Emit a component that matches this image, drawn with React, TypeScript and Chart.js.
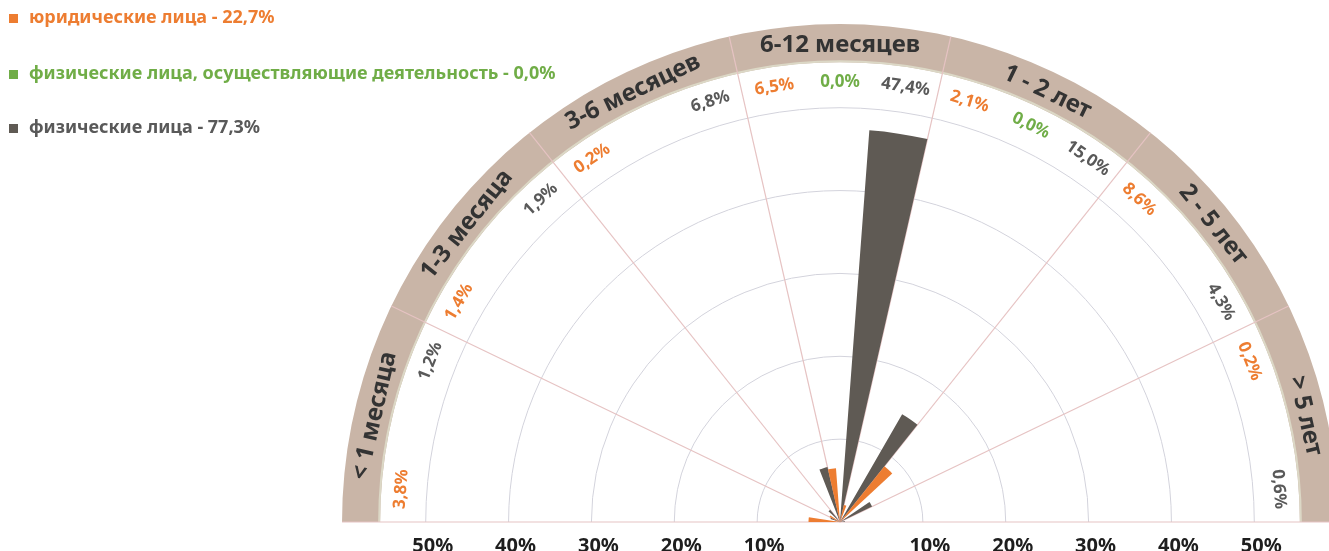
import { useEffect, useRef } from "react";
import { Chart, registerables } from "chart.js";

Chart.register(...registerables);

// ---- data ----
const categories = ["< 1 месяца", "1-3 месяца", "3-6 месяцев", "6-12 месяцев", "1 - 2 лет", "2 - 5 лет", "> 5 лет"];
const seriesNames = [
  "юридические лица - 22,7%",
  "физические лица, осуществляющие деятельность - 0,0%",
  "физические лица - 77,3%",
];
const legalEntities = [3.8, 1.4, 0.2, 6.5, 2.1, 8.6, 0.2];
const entrepreneurs = [0.0, 0.0, 0.0, 0.0, 0.0, 0.0, 0.0];
const individuals = [1.2, 1.9, 6.8, 47.4, 15.0, 4.3, 0.6];
const entrepreneursLabelShown = [false, false, false, true, true, false, false];
const gridTicks = [10, 20, 30, 40, 50];
const scaleMax = 63;
const bandInner = 55.5;
const bandOuter = 60.1;
const labelRadiusValue = 53.1;
const bandLabelValue = 57.6;

// ---- styles ----
const seriesColors = ["#ED7D31", "#70AD47", "#5F5A54"];
const labelColors = ["#ED7D31", "#70AD47", "#595959"];
const FONT = '"Noto Sans", "Open Sans", sans-serif';

const fmt = (v: number) => v.toFixed(1).replace(".", ",") + "%";

const semiPlugin = {
  id: "semiPolar",
  beforeDatasetsDraw(chart: any) {
    const r = chart.scales.r;
    const ctx = chart.ctx as CanvasRenderingContext2D;
    const cx = r.xCenter;
    const cy = r.yCenter;
    const n = categories.length;
    ctx.save();
    // grid semicircles
    ctx.strokeStyle = "#D3D3DC";
    ctx.lineWidth = 1;
    for (const v of gridTicks) {
      const d = r.getDistanceFromCenterForValue(v);
      ctx.beginPath();
      ctx.arc(cx, cy, d, Math.PI, 2 * Math.PI);
      ctx.stroke();
    }
    // band
    const ri = r.getDistanceFromCenterForValue(bandInner);
    const ro = r.getDistanceFromCenterForValue(bandOuter);
    ctx.beginPath();
    ctx.arc(cx, cy, ro, Math.PI, 2 * Math.PI);
    ctx.lineTo(cx + ri, cy);
    ctx.arc(cx, cy, ri, 2 * Math.PI, Math.PI, true);
    ctx.closePath();
    ctx.fillStyle = "#C9B5A7";
    ctx.fill();
    ctx.strokeStyle = "#DCD8C6";
    ctx.lineWidth = 2;
    ctx.beginPath();
    ctx.arc(cx, cy, ri + 1, Math.PI, 2 * Math.PI);
    ctx.stroke();
    // spokes
    ctx.strokeStyle = "#E6C3C3";
    ctx.lineWidth = 1.2;
    for (let k = 0; k <= n; k++) {
      const a = Math.PI + (k * Math.PI) / n;
      ctx.beginPath();
      ctx.moveTo(cx, cy);
      ctx.lineTo(cx + ro * Math.cos(a), cy + ro * Math.sin(a));
      ctx.stroke();
    }
    ctx.restore();
  },
  afterDatasetsDraw(chart: any) {
    const r = chart.scales.r;
    const ctx = chart.ctx as CanvasRenderingContext2D;
    const cx = r.xCenter;
    const cy = r.yCenter;
    const n = categories.length;
    const meta = chart.getDatasetMeta(0);
    ctx.save();
    ctx.textAlign = "center";
    ctx.textBaseline = "middle";
    // value labels
    const dl = r.getDistanceFromCenterForValue(labelRadiusValue);
    const series = [legalEntities, entrepreneurs, individuals];
    for (let i = 0; i < n; i++) {
      for (let s = 0; s < 3; s++) {
        if (s === 1 && !entrepreneursLabelShown[i]) continue;
        const el = meta.data[i * 3 + s];
        const a = (el.startAngle + el.endAngle) / 2;
        ctx.save();
        ctx.translate(cx + dl * Math.cos(a), cy + dl * Math.sin(a));
        ctx.rotate(a + Math.PI / 2);
        ctx.fillStyle = labelColors[s];
        ctx.font = `bold 17px ${FONT}`;
        ctx.fillText(fmt(series[s][i]), 0, 0);
        ctx.restore();
      }
    }
    // band labels
    const db = r.getDistanceFromCenterForValue(bandLabelValue);
    for (let i = 0; i < n; i++) {
      const a = Math.PI + ((i + 0.5) * Math.PI) / n;
      ctx.save();
      ctx.translate(cx + db * Math.cos(a), cy + db * Math.sin(a));
      ctx.rotate(a + Math.PI / 2);
      ctx.fillStyle = "#333333";
      ctx.font = `bold 24px ${FONT}`;
      ctx.fillText(categories[i], 0, 0);
      ctx.restore();
    }
    // axis tick labels on baseline
    ctx.fillStyle = "#1E1E1E";
    ctx.font = `bold 20px ${FONT}`;
    for (const v of gridTicks) {
      const d = r.getDistanceFromCenterForValue(v);
      ctx.fillText(v + "%", cx - d + 7, cy + 24);
      ctx.fillText(v + "%", cx + d + 7, cy + 24);
    }
    // legend
    ctx.textAlign = "left";
    ctx.font = `bold 18px ${FONT}`;
    const ys = [18, 74, 128];
    for (let s = 0; s < 3; s++) {
      ctx.fillStyle = seriesColors[s];
      ctx.fillRect(9, ys[s] - 4, 9, 9);
      ctx.fillStyle = labelColors[s];
      ctx.fillText(seriesNames[s], 29, ys[s]);
    }
    ctx.restore();
  },
};

export default function App() {
  const ref = useRef<HTMLCanvasElement | null>(null);
  useEffect(() => {
    if (!ref.current) return;
    const data: number[] = [];
    const colors: string[] = [];
    const labels: string[] = [];
    categories.forEach((c, i) => {
      [legalEntities, entrepreneurs, individuals].forEach((arr, s) => {
        data.push(arr[i]);
        colors.push(seriesColors[s]);
        labels.push(c + " — " + seriesNames[s]);
      });
    });
    const chart = new Chart(ref.current, {
      type: "polarArea",
      data: {
        labels,
        datasets: [
          {
            data,
            backgroundColor: colors,
            borderWidth: 0,
            angle: 180 / data.length,
          } as any,
        ],
      },
      options: {
        animation: false,
        responsive: false,
        maintainAspectRatio: false,
        layout: { padding: 0 },
        plugins: { legend: { display: false }, tooltip: { enabled: false } },
        scales: {
          r: {
            min: 0,
            max: scaleMax,
            startAngle: -90,
            ticks: { display: false, stepSize: 10 },
            grid: { display: false },
            angleLines: { display: false },
            pointLabels: { display: false },
          } as any,
        },
      },
      plugins: [semiPlugin],
    });
    return () => chart.destroy();
  }, []);
  return (
    <div style={{ position: "fixed", left: 0, top: 0, width: 1329, height: 551, overflow: "hidden", background: "#fff" }}>
      <canvas ref={ref} width={1680} height={1044} style={{ display: "block" }} />
    </div>
  );
}
